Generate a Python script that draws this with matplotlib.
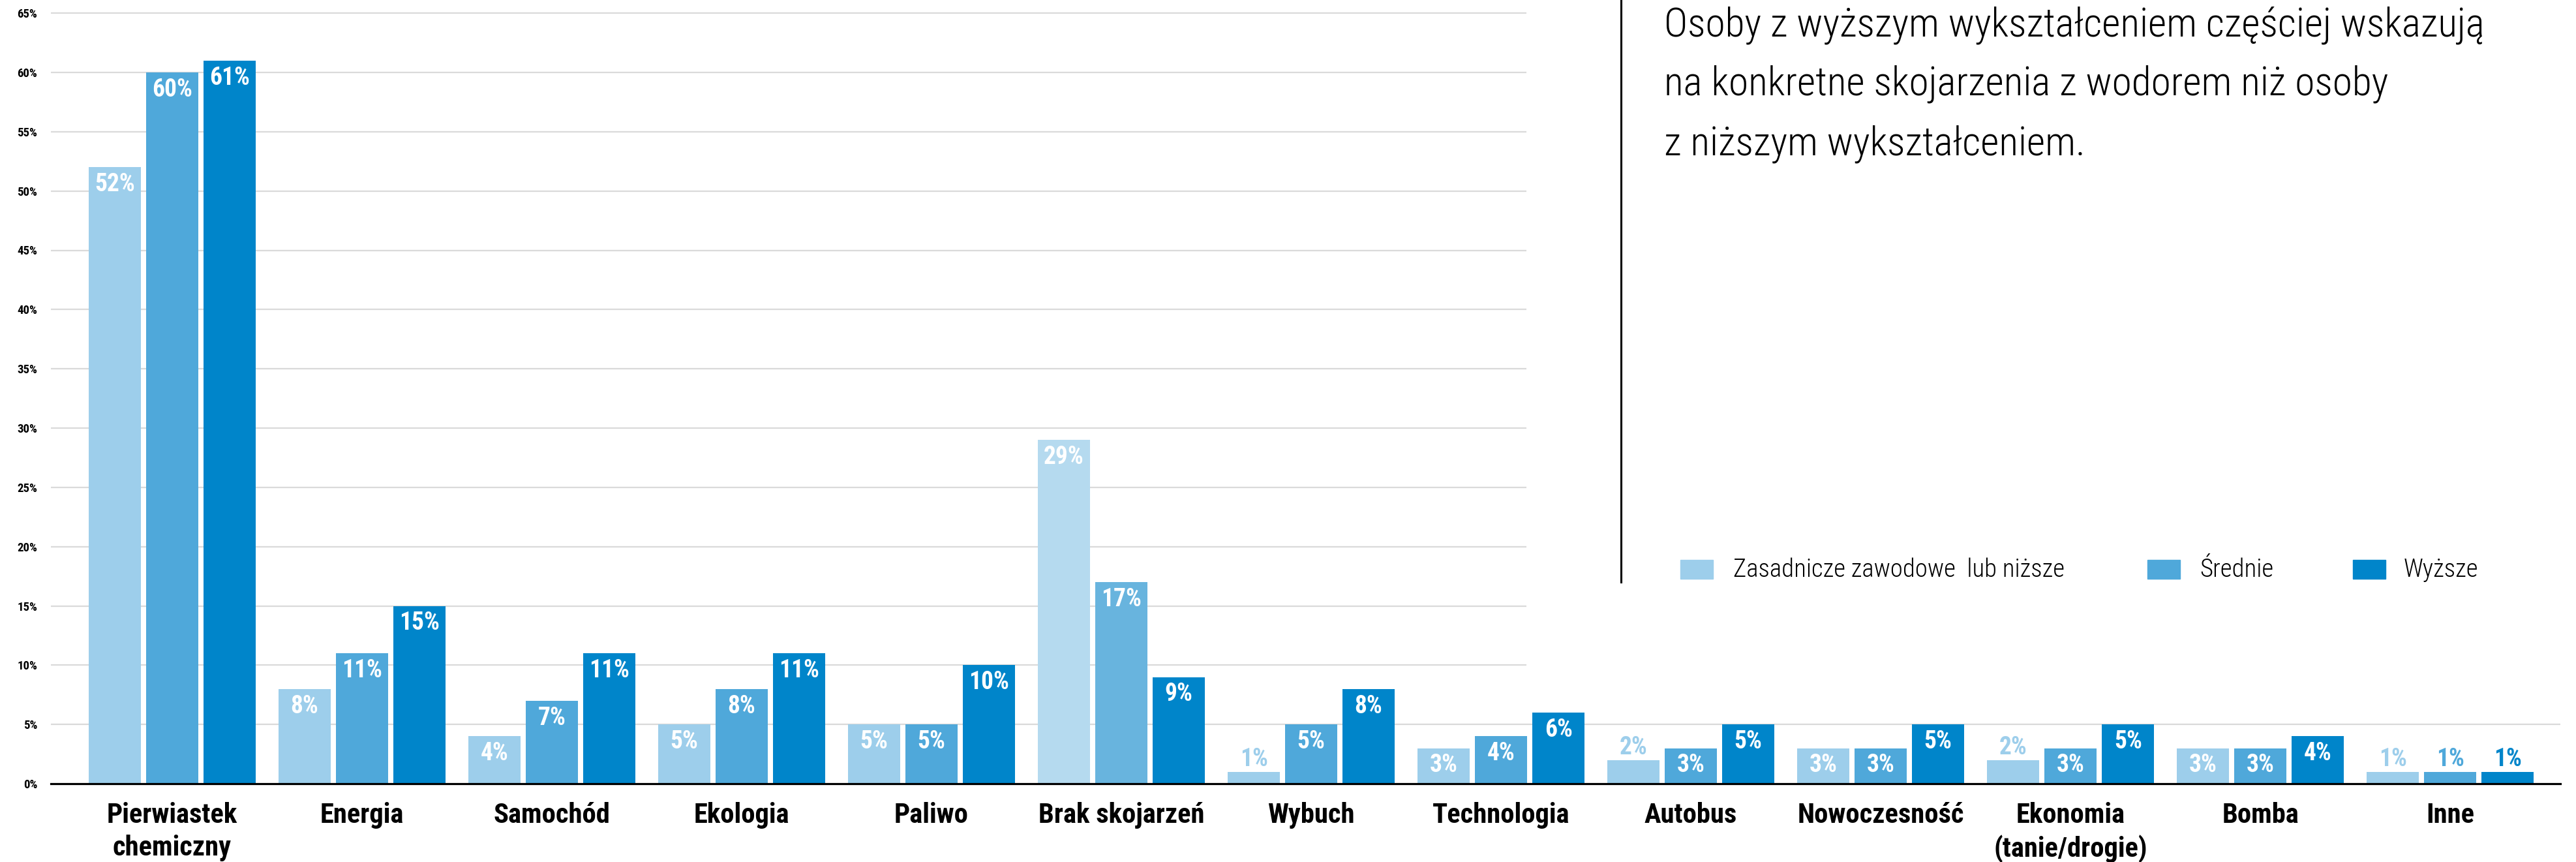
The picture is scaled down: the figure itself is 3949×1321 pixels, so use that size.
import matplotlib
matplotlib.use("Agg")
import matplotlib.pyplot as plt
from matplotlib.patches import Rectangle
from matplotlib.lines import Line2D
from matplotlib import font_manager
import numpy as np

# data
categories = ['Pierwiastek\nchemiczny', 'Energia', 'Samochód', 'Ekologia', 'Paliwo',
              'Brak skojarzeń', 'Wybuch', 'Technologia', 'Autobus', 'Nowoczesność',
              'Ekonomia\n(tanie/drogie)', 'Bomba', 'Inne']
zasadnicze = [52, 8, 4, 5, 5, 29, 1, 3, 2, 3, 2, 3, 1]
srednie = [60, 11, 7, 8, 5, 17, 5, 4, 3, 3, 3, 3, 1]
wyzsze = [61, 15, 11, 11, 10, 9, 8, 6, 5, 5, 5, 4, 1]
series_names = ['Zasadnicze zawodowe  lub niższe', 'Średnie', 'Wyższe']
title_lines = ['Osoby z wyższym wykształceniem częściej wskazują',
               'na konkretne skojarzenia z wodorem niż osoby',
               'z niższym wykształceniem.']

colors = ['#9DCEEB', '#4FA8DA', '#0085CA']
colors_brak = ['#B5DAEF', '#68B4DE', '#0085CA']

# pick a narrow family if one is installed
installed = {f.name for f in font_manager.fontManager.ttflist}
family = 'Roboto'
for cand in ['Liberation Sans Narrow', 'Roboto Condensed', 'Open Sans Condensed',
             'DejaVu Sans Condensed', 'Roboto']:
    if cand in installed:
        family = cand
        break
plt.rcParams['font.family'] = [family, 'DejaVu Sans']

fig = plt.figure(figsize=(39.49, 13.21), dpi=100)
renderer = fig.canvas.get_renderer()


def fit_size(s, target_px, weight='normal', base=30):
    # font size that gives the text the width seen in the reference
    t = fig.text(0, 0, s, fontsize=base, fontweight=weight)
    w = t.get_window_extent(renderer).width
    t.remove()
    return base * target_px / w


title_fs = fit_size(title_lines[0], 1277)
legend_fs = fit_size(series_names[0], 516)
xlab_fs = fit_size('Pierwiastek', 201, 'bold')
val_fs = fit_size('52%', 62, 'bold')
ytick_fs = fit_size('65%', 31, 'bold')

ax = fig.add_axes([78 / 3949, 120 / 1321, (3925 - 78) / 3949, 1199 / 1321])

x = np.arange(len(categories))
step = 0.3025
width = 0.275
xmin, xmax = -0.639, 12.58
ax.set_xlim(xmin, xmax)
ax.set_ylim(0, 66)

# gridlines: upper ones stop before the text block, 5% runs to the end
ax.hlines(range(10, 70, 5), xmin, 7.134, color='#DADADA', lw=1.6, zorder=0)
ax.hlines(5, xmin, xmax, color='#DADADA', lw=1.6, zorder=0)

all_series = [zasadnicze, srednie, wyzsze]
for s, vals in enumerate(all_series):
    pos = x + (s - 1) * step
    cols = [colors_brak[s] if c.startswith('Brak') else colors[s] for c in categories]
    ax.bar(pos, vals, width=width, color=cols, zorder=1)
    for p, v, c in zip(pos, vals, cols):
        if v <= 2:
            ax.annotate(f'{v}%', (p, v), xytext=(0, 6), textcoords='offset points',
                        ha='center', va='baseline', color=c, fontsize=val_fs,
                        fontweight='bold')
        else:
            ax.annotate(f'{v}%', (p, v), xytext=(0, -19), textcoords='offset points',
                        ha='center', va='center', color='white', fontsize=val_fs,
                        fontweight='bold')

for sp in ['top', 'right', 'left']:
    ax.spines[sp].set_visible(False)
ax.spines['bottom'].set_linewidth(2.3)
ax.spines['bottom'].set_color('black')

ax.set_yticks(range(0, 70, 5))
ax.set_yticklabels([f'{t}%' for t in range(0, 70, 5)], fontsize=ytick_fs, fontweight='bold')
ax.set_xticks(x)
ax.set_xticklabels(categories, fontsize=xlab_fs, fontweight='bold', linespacing=1.3)
ax.tick_params(axis='y', length=0, pad=15)
ax.tick_params(axis='x', length=0, pad=20)

# vertical divider next to the text block
fig.add_artist(Line2D([2485 / 3949] * 2, [1 - 892 / 1321, 1.0], color='black', lw=2.2))

# headline text
for i, line in enumerate(title_lines):
    fig.text(2551 / 3949, 1 - (55 + 91 * i) / 1321, line, fontsize=title_fs,
             va='baseline', ha='left', color='black', fontweight='light')

# legend drawn by hand
leg_sq_x = [2576, 3292, 3607]
leg_tx_x = [2657, 3372, 3685]
for name, c, sx, tx in zip(series_names, colors, leg_sq_x, leg_tx_x):
    fig.add_artist(Rectangle((sx / 3949, 1 - 887 / 1321), 50 / 3949, 29 / 1321,
                             transform=fig.transFigure, color=c))
    fig.text(tx / 3949, 1 - 873 / 1321, name, fontsize=legend_fs, va='center',
             ha='left', fontweight='light')

fig.savefig('out.png', dpi=100)
